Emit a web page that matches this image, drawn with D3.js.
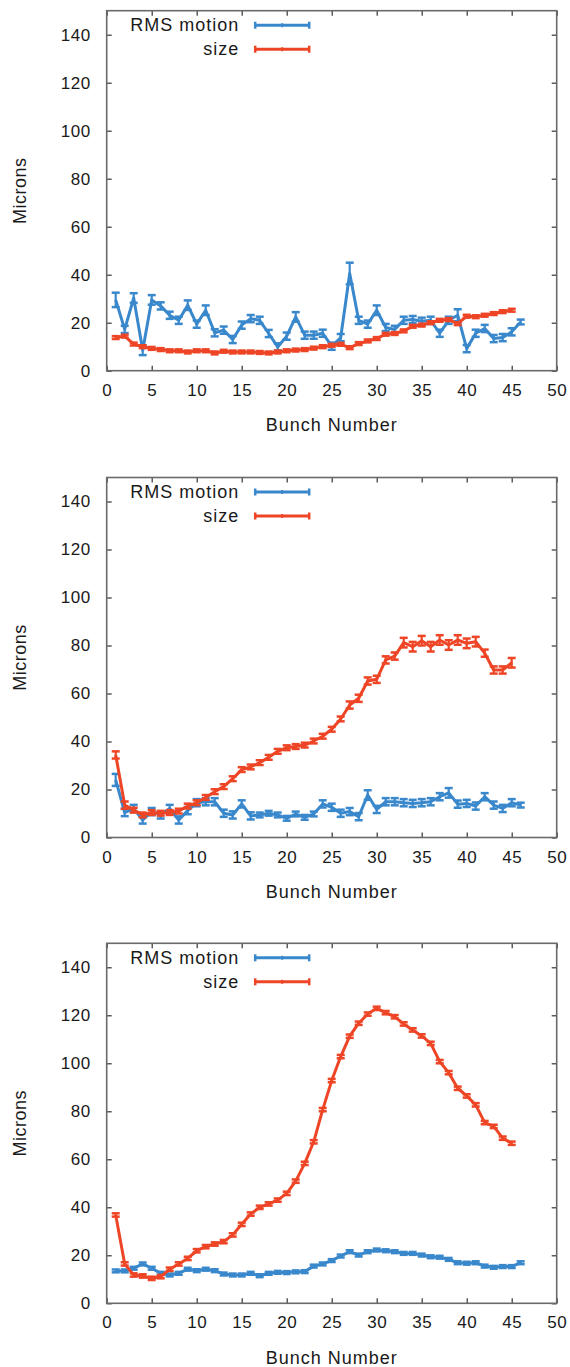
<!DOCTYPE html>
<html>
<head>
<meta charset="utf-8">
<script src="https://cdn.jsdelivr.net/npm/d3@7"></script>
<style>
  html, body { margin: 0; padding: 0; background: #fff; }
  svg { display: block; }
  text { font-family: "Liberation Sans", Arial, sans-serif; fill: #1a1a1a; }
</style>
</head>
<body>
<svg id="chart" width="570" height="1367"></svg>
<script>
// ---- data ----
const bunchesRms  = [1,2,3,4,5,6,7,8,9,10,11,12,13,14,15,16,17,18,19,20,21,22,23,24,25,26,27,28,29,30,31,32,33,34,35,36,37,38,39,40,41,42,43,44,45,46];
const bunchesSize = [1,2,3,4,5,6,7,8,9,10,11,12,13,14,15,16,17,18,19,20,21,22,23,24,25,26,27,28,29,30,31,32,33,34,35,36,37,38,39,40,41,42,43,44,45];

const xTicks = [0,5,10,15,20,25,30,35,40,45,50];
const yTicks = [0,20,40,60,80,100,120,140];
const seriesNames = ["RMS motion", "size"];
const xLabel = "Bunch Number";
const yLabel = "Microns";

// Panel 1
const p1Rms = [29.5,17.2,30.3,8.5,29.5,27.0,23.1,21.0,27.3,19.4,25.2,15.8,16.9,13.0,19.0,21.7,21.0,15.5,9.9,14.4,22.4,14.8,14.8,15.6,10.2,13.8,40.5,21.0,19.4,25.2,18.0,17.2,21.0,21.3,20.6,21.0,15.6,21.0,23.1,9.2,15.6,17.6,13.4,13.8,16.2,20.3];
const p1RmsErr = [3,1.5,2,2,2,1.5,1.5,1.5,2,1.5,2,1.5,1.5,1.5,1.5,1.5,1.5,1.5,1.5,1.5,2,1.5,1.5,1.5,1.5,1.5,4.5,1.5,1.5,2,1.5,1.5,1.5,1.5,1.5,1.5,1.5,1.5,2.5,1.5,1.5,1.5,1.5,1.5,1.5,1];
const p1Size = [13.8,14.4,11.1,10.0,9.3,8.8,8.3,8.3,7.8,8.3,8.3,7.4,8.1,7.8,7.8,7.8,7.6,7.4,7.8,8.3,8.6,8.8,9.4,10.0,10.6,11.0,9.6,11.3,12.4,13.4,15.2,15.5,16.6,18.5,19.0,20.0,21.0,21.3,19.6,22.7,22.5,23.1,23.8,24.6,25.2];
const p1SizeErr = [0.6,0.6,0.6,0.6,0.6,0.6,0.6,0.6,0.6,0.6,0.6,0.6,0.6,0.6,0.6,0.6,0.6,0.6,0.6,0.6,0.6,0.6,0.6,0.6,0.6,0.6,0.6,0.6,0.6,0.6,0.6,0.6,0.6,0.6,0.6,0.6,0.6,0.6,0.6,0.6,0.6,0.6,0.6,0.6,0.6];

// Panel 2
const p2Rms = [24.0,10.4,12.1,7.3,10.8,9.4,12.1,7.3,11.2,14.5,14.9,14.9,10.1,9.4,14.0,9.0,9.4,10.1,9.4,8.0,9.8,8.4,9.8,14.0,12.6,10.1,10.8,8.7,17.7,11.7,14.9,14.9,14.5,14.2,14.5,14.9,17.0,18.6,13.9,14.2,13.1,17.0,13.5,12.1,14.5,13.5];
const p2RmsErr = [2.5,1.5,1.5,1.5,1.5,1.5,1.5,1.5,1.5,1.5,1.5,1.5,1.5,1.5,1.5,1.5,1,1,1,1,1,1,1,1.5,1.5,1.5,1.5,1.5,2,1.5,1.5,1.5,1.5,1.5,1.5,1.5,1.5,2,1.5,1.5,1.5,1.5,1.5,1.5,1.5,1];
const p2Size = [34.4,13.5,11.4,9.4,10.4,10.1,10.4,11.0,13.1,14.5,16.7,19.1,21.2,24.5,28.3,29.4,31.2,33.4,35.9,37.4,37.9,38.5,40.2,42.2,45.1,49.4,55.2,58.0,65.2,65.9,74.0,75.6,81.2,79.5,82.0,79.5,82.3,80.2,82.3,80.9,81.6,76.8,69.8,69.8,72.8];
const p2SizeErr = [1.5,1.5,1,1,1,1,1,1,1,1,1,1,1,1,1,1,1,1,1,1,1,1,1,1,1,1,1.5,1.5,1.5,1.5,1.5,1.5,2,2,2,2,2,2,2,2,2,1.5,1.5,1.5,2];

// Panel 3
const p3Rms = [13.5,13.5,14.6,16.4,14.6,12.5,11.8,12.5,14.2,13.6,14.2,13.6,12.2,11.8,11.8,12.5,11.5,12.5,12.9,12.8,13.1,13.2,15.5,16.4,17.8,19.7,21.5,20.1,21.5,22.2,21.9,21.5,20.8,20.8,20.1,19.4,19.2,18.3,16.9,16.7,16.9,15.5,15.0,15.3,15.3,16.9];
const p3RmsErr = [0.6,0.6,0.6,0.6,0.6,0.6,0.6,0.6,0.6,0.6,0.6,0.6,0.6,0.6,0.6,0.6,0.6,0.6,0.6,0.6,0.6,0.6,0.6,0.6,0.6,0.6,0.6,0.6,0.6,0.6,0.6,0.6,0.6,0.6,0.6,0.6,0.6,0.6,0.6,0.6,0.6,0.6,0.6,0.6,0.6,0.6];
const p3Size = [36.8,16.4,11.8,11.4,10.4,11.1,14.2,16.4,18.7,21.9,23.6,24.7,25.7,28.5,32.9,37.2,40.0,41.4,43.0,45.8,50.9,58.3,67.3,80.7,92.8,102.8,111.3,116.7,120.5,122.9,121.1,119.4,116.4,113.9,111.4,108.3,100.7,96.1,89.6,86.4,82.7,75.3,73.7,68.8,66.7];
const p3SizeErr = [0.7,0.7,0.7,0.7,0.7,0.7,0.7,0.7,0.7,0.7,0.7,0.7,0.7,0.7,0.7,0.7,0.7,0.7,0.7,0.7,0.7,0.7,0.7,0.7,0.7,0.7,0.7,0.7,0.7,0.7,0.7,0.7,0.7,0.7,0.7,0.7,0.7,0.7,0.7,0.7,0.7,0.7,0.7,0.7,0.7];

const panels = [
  {rms: p1Rms, rmsErr: p1RmsErr, size: p1Size, sizeErr: p1SizeErr},
  {rms: p2Rms, rmsErr: p2RmsErr, size: p2Size, sizeErr: p2SizeErr},
  {rms: p3Rms, rmsErr: p3RmsErr, size: p3Size, sizeErr: p3SizeErr}
];

// ---- layout / style ----
const colors = {rms: "#3a88cc", size: "#ee4526"};
const panelLeft = 106.7, panelW = 450, panelH = 360;
const panelTops = [10.7, 477.5, 943.3];

const svg = d3.select("#chart");
const x = d3.scaleLinear().domain([0, 50]).range([0, panelW]);
const y = d3.scaleLinear().domain([0, 150]).range([panelH, 0]);

panels.forEach((p, i) => {
  const g = svg.append("g").attr("transform", `translate(${panelLeft},${panelTops[i]})`);

  // axes (ticks inward on all four sides)
  const axB = g.append("g").attr("transform", `translate(0,${panelH})`)
    .call(d3.axisBottom(x).tickValues(xTicks).tickSizeInner(-5).tickSizeOuter(0).tickPadding(13));
  const axT = g.append("g")
    .call(d3.axisTop(x).tickValues(xTicks).tickSizeInner(-5).tickSizeOuter(0).tickFormat(""));
  const axL = g.append("g")
    .call(d3.axisLeft(y).tickValues(yTicks).tickSizeInner(-5).tickSizeOuter(0).tickPadding(16));
  const axR = g.append("g").attr("transform", `translate(${panelW},0)`)
    .call(d3.axisRight(y).tickValues(yTicks).tickSizeInner(-5).tickSizeOuter(0).tickFormat(""));
  [axB, axT, axL, axR].forEach(a => {
    a.select(".domain").remove();
    a.selectAll(".tick line").attr("stroke", "#333").attr("stroke-width", 1.2);
    a.selectAll(".tick text").attr("font-size", 17).attr("fill", "#1a1a1a")
      .attr("font-family", "Liberation Sans, Arial, sans-serif").style("letter-spacing", "0.5px");
  });
  axB.selectAll(".tick text").attr("dy", "0.71em");

  g.append("rect").attr("x", 0).attr("y", 0).attr("width", panelW).attr("height", panelH)
    .attr("fill", "none").attr("stroke", "#6a6a6a").attr("stroke-width", 1.6);

  // labels
  g.append("text").attr("x", panelW / 2).attr("y", panelH + 54).attr("dy", "0.35em")
    .attr("text-anchor", "middle").attr("font-size", 18).style("letter-spacing", "1px").text(xLabel);
  g.append("text").attr("transform", `translate(${20 - panelLeft},${panelH / 2 - 0}) rotate(-90)`)
    .attr("text-anchor", "middle").attr("dy", "0.35em").attr("font-size", 18)
    .style("letter-spacing", "0.5px").text(yLabel);

  // series
  const drawSeries = (xs, vals, errs, color) => {
    const data = xs.map((b, k) => ({b, v: vals[k], e: errs[k]}));
    const line = d3.line().x(d => x(d.b)).y(d => y(d.v));
    g.append("path").datum(data).attr("d", line).attr("fill", "none")
      .attr("stroke", color).attr("stroke-width", 3).attr("stroke-linejoin", "round");
    const eb = g.append("g").attr("stroke", color);
    data.forEach(d => {
      const y0 = y(d.v - d.e), y1 = y(d.v + d.e);
      eb.append("line").attr("x1", x(d.b)).attr("x2", x(d.b)).attr("y1", y0).attr("y2", y1).attr("stroke-width", 2.2);
      eb.append("line").attr("x1", x(d.b) - 4).attr("x2", x(d.b) + 4).attr("y1", y0).attr("y2", y0).attr("stroke-width", 2.5);
      eb.append("line").attr("x1", x(d.b) - 4).attr("x2", x(d.b) + 4).attr("y1", y1).attr("y2", y1).attr("stroke-width", 2.5);
    });
  };
  drawSeries(bunchesRms, p.rms, p.rmsErr, colors.rms);
  drawSeries(bunchesSize, p.size, p.sizeErr, colors.size);

  // legend
  const legRows = [{name: seriesNames[0], color: colors.rms, yy: 14.5}, {name: seriesNames[1], color: colors.size, yy: 38.5}];
  legRows.forEach(r => {
    g.append("text").attr("x", 132.5).attr("y", r.yy).attr("dy", "0.35em").attr("text-anchor", "end")
      .attr("font-size", 18).style("letter-spacing", "1px").text(r.name);
    const lg = g.append("g").attr("stroke", r.color);
    lg.append("line").attr("x1", 148.5).attr("x2", 202.5).attr("y1", r.yy).attr("y2", r.yy).attr("stroke-width", 3);
    lg.append("line").attr("x1", 148.5).attr("x2", 148.5).attr("y1", r.yy - 3.5).attr("y2", r.yy + 3.5).attr("stroke-width", 2.5);
    lg.append("line").attr("x1", 202.5).attr("x2", 202.5).attr("y1", r.yy - 3.5).attr("y2", r.yy + 3.5).attr("stroke-width", 2.5);
    lg.append("line").attr("x1", 175.5).attr("x2", 175.5).attr("y1", r.yy - 2).attr("y2", r.yy + 2).attr("stroke-width", 2);
  });
});
</script>
</body>
</html>
